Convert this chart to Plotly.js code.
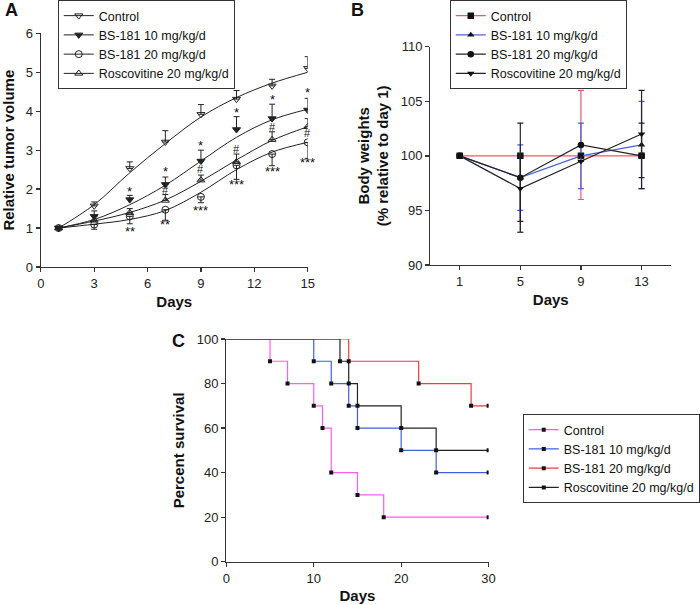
<!DOCTYPE html>
<html><head><meta charset="utf-8">
<script src="https://cdn.plot.ly/plotly-3.0.1.min.js"></script>
<style>html,body{margin:0;padding:0;background:#fff}#chart{width:700px;height:605px}</style>
</head><body><div id="chart"></div>
<script>
// ---------- Panel A: relative tumor volume ----------
const daysA = [1, 3, 5, 7, 9, 11, 13, 15];
const ctrlA = [1.0, 1.57, 2.53, 3.21, 3.92, 4.31, 4.65, 5.1];
const ctrlAErr = [0, 0.1, 0.17, 0.29, 0.25, 0.22, 0.17, 0.3];
const bs10A = [1.0, 1.3, 1.73, 2.12, 2.72, 3.53, 3.81, 4.03];
const bs10AErr = [0, 0.14, 0.11, 0.19, 0.28, 0.33, 0.37, 0.3];
const bs20A = [1.0, 1.09, 1.3, 1.47, 1.8, 2.61, 2.9, 3.2];
const bs20AErr = [0, 0.12, 0.19, 0.27, 0.15, 0.36, 0.3, 0.41];
const roscA = [1.0, 1.2, 1.39, 1.71, 2.23, 2.7, 3.27, 3.6];
const roscAErr = [0, 0.1, 0.11, 0.15, 0.13, 0.2, 0.2, 0.21];
const ctrlFit = [1.0, 1.6, 2.42, 3.17, 3.85, 4.35, 4.72, 5.0];
const bs10Fit = [1.0, 1.22, 1.6, 2.1, 2.72, 3.33, 3.78, 4.05];
const roscFit = [1.0, 1.18, 1.4, 1.72, 2.2, 2.75, 3.25, 3.6];
const bs20Fit = [1.0, 1.1, 1.22, 1.45, 1.92, 2.5, 2.95, 3.2];
const sigX = [5, 5, 7, 7, 7, 9, 9, 9, 11, 11, 11, 13, 13, 13, 15, 15, 15];
const sigY = [1.93, 0.9, 2.45, 1.97, 1.1, 3.13, 2.52, 1.45, 3.97, 3.02, 2.12, 4.3, 3.6, 2.45, 4.47, 3.43, 2.67];
const sigText = ['*', '**', '*', '#', '**', '*', '#', '***', '*', '#', '***', '*', '#', '***', '*', '#', '***'];
const seriesNames = ['Control', 'BS-181 10 mg/kg/d', 'BS-181 20 mg/kg/d', 'Roscovitine 20 mg/kg/d'];

// ---------- Panel B: body weights ----------
const daysB = [1, 5, 9, 13];
const ctrlB = [100, 100, 100, 100];
const ctrlBUp = [0, 0, 6, 0];
const ctrlBDown = [0, 7, 4, 0];
const bs10B = [100, 98, 100, 101];
const bs10BErr = [0, 3, 3, 4];
const bs20B = [100, 98, 101, 100];
const bs20BErr = [0, 5, 0, 3];
const roscB = [100, 97, 99.5, 102];
const roscBErr = [0, 3, 0, 4];

// ---------- Panel C: survival ----------
const ctrlCx = [0, 5, 7, 10, 11, 12, 15, 18, 30];
const ctrlCy = [100, 90, 80, 70, 60, 40, 30, 20, 20];
const bs10Cx = [0, 10, 12, 14, 15, 20, 24, 30];
const bs10Cy = [100, 90, 80, 70, 60, 50, 40, 40];
const bs20Cx = [0, 14, 22, 28, 30];
const bs20Cy = [100, 90, 80, 70, 70];
const roscCx = [0, 13, 14, 15, 20, 24, 30];
const roscCy = [100, 90, 80, 70, 60, 50, 50];

const FONT = 'Arial, "Liberation Sans", Helvetica, sans-serif';
const AX = '#333';
const traces = [];

// Panel A traces
const aSym = ['triangle-down-open', 'triangle-down', 'circle-open', 'triangle-up-open'];
const aVals = [ctrlA, bs10A, bs20A, roscA];
const aErrs = [ctrlAErr, bs10AErr, bs20AErr, roscAErr];
const aFits = [ctrlFit, bs10Fit, bs20Fit, roscFit];
const aDown = [false, false, true, false];
for (let i = 0; i < 4; i++) {
  traces.push({x: daysA, y: aFits[i], mode: 'lines', line: {color: '#222', width: 1, shape: 'spline', smoothing: 1},
    xaxis: 'x', yaxis: 'y', showlegend: false, hoverinfo: 'skip'});
}
for (let i = 0; i < 4; i++) {
  const z = aErrs[i].map(() => 0);
  traces.push({x: daysA, y: aVals[i], mode: 'markers',
    marker: {symbol: aSym[i], size: 7, color: '#222', line: {color: '#222', width: 1}},
    error_y: {type: 'data', symmetric: false, array: aDown[i] ? z : aErrs[i], arrayminus: aDown[i] ? aErrs[i] : z,
      color: '#222', thickness: 1, width: 3},
    xaxis: 'x', yaxis: 'y', showlegend: false});
}
// legend-only entries (no visible data)
for (let i = 0; i < 4; i++) {
  traces.push({x: [null], y: [null], mode: 'lines+markers', name: seriesNames[i], legend: 'legend',
    line: {color: '#222', width: 1}, marker: {symbol: aSym[i], size: 7, color: '#222', line: {color: '#222', width: 1}},
    xaxis: 'x', yaxis: 'y', hoverinfo: 'skip'});
}

// Panel B traces
const bCols = ['#e8596b', '#4a62dc', '#222', '#222'];
const bSym = ['square', 'triangle-up', 'circle', 'triangle-down'];
const bVals = [ctrlB, bs10B, bs20B, roscB];
const bUp = [ctrlBUp, bs10BErr, bs20BErr, roscBErr];
const bDn = [ctrlBDown, bs10BErr, bs20BErr, roscBErr];
for (let i = 0; i < 4; i++) {
  traces.push({x: daysB, y: bVals[i], mode: 'lines+markers', name: seriesNames[i], legend: 'legend2',
    line: {color: bCols[i], width: 1.2}, marker: {symbol: bSym[i], size: 6.5, color: '#111'},
    error_y: {type: 'data', symmetric: false, array: bUp[i], arrayminus: bDn[i], color: bCols[i], thickness: 1.2, width: 3},
    xaxis: 'x2', yaxis: 'y2'});
}

// Panel C traces
const cCols = ['#ff5cf4', '#3f5fe0', '#ee3b3b', '#222'];
const cX = [ctrlCx, bs10Cx, bs20Cx, roscCx];
const cY = [ctrlCy, bs10Cy, bs20Cy, roscCy];
for (let i = 0; i < 4; i++) {
  traces.push({x: cX[i], y: cY[i], mode: 'lines', line: {color: cCols[i], width: 1.2, shape: 'hv'},
    xaxis: 'x3', yaxis: 'y3', showlegend: false, hoverinfo: 'skip'});
}
for (let i = 0; i < 4; i++) {
  traces.push({x: cX[i].slice(1), y: cY[i].slice(1), mode: 'markers',
    marker: {symbol: 'square', size: 4, color: '#111'}, xaxis: 'x3', yaxis: 'y3', showlegend: false});
}
for (let i = 0; i < 4; i++) {
  traces.push({x: [null], y: [null], mode: 'lines+markers', name: seriesNames[i], legend: 'legend3',
    line: {color: cCols[i], width: 1.2}, marker: {symbol: 'square', size: 4, color: '#111'},
    xaxis: 'x3', yaxis: 'y3', hoverinfo: 'skip'});
}

const tickFont = {family: FONT, size: 13, color: '#222'};
const titleFont = {family: FONT, size: 15, color: '#111', weight: 'bold'};
function ax(extra) {
  return Object.assign({showline: true, linecolor: AX, linewidth: 1.3, ticks: 'outside', ticklen: 4,
    tickcolor: AX, tickwidth: 1.3, showgrid: false, zeroline: false, tickfont: tickFont, automargin: false,
    fixedrange: true}, extra);
}
const W = 700, H = 605;
const annotations = sigX.map((d, i) => ({x: d, y: sigY[i], xref: 'x', yref: 'y', text: sigText[i], showarrow: false,
  font: {family: FONT, size: sigText[i] === '#' ? 11 : 13, color: '#111'}}));
annotations.push({x: 3 / W, y: 1 - 10 / H, xref: 'paper', yref: 'paper', text: '<b>A</b>', showarrow: false, xanchor: 'left', yanchor: 'middle', font: {family: FONT, size: 18, color: '#111'}});
annotations.push({x: 350 / W, y: 1 - 10 / H, xref: 'paper', yref: 'paper', text: '<b>B</b>', showarrow: false, xanchor: 'left', yanchor: 'middle', font: {family: FONT, size: 18, color: '#111'}});
annotations.push({x: 171 / W, y: 1 - 341 / H, xref: 'paper', yref: 'paper', text: '<b>C</b>', showarrow: false, xanchor: 'left', yanchor: 'middle', font: {family: FONT, size: 18, color: '#111'}});
annotations.push({x: 30.5, y: 70, xref: 'x3', yref: 'y3', text: '#', showarrow: false, xanchor: 'left', font: {family: FONT, size: 9, color: '#333'}});

const legBase = {bordercolor: '#333', borderwidth: 1, bgcolor: '#fff', font: {family: FONT, size: 12.5, color: '#111'},
  xanchor: 'left', yanchor: 'top', itemwidth: 30, tracegroupgap: 0};

const layout = {
  width: W, height: H, margin: {l: 0, r: 0, t: 0, b: 0}, paper_bgcolor: '#fff', plot_bgcolor: '#fff',
  showlegend: true, font: {family: FONT},
  xaxis: ax({domain: [41 / W, 309 / W], range: [0, 15], tickvals: [0, 3, 6, 9, 12, 15], anchor: 'y',
    title: {text: 'Days', font: titleFont, standoff: 6}}),
  yaxis: ax({domain: [1 - 267 / H, 1 - 33.3 / H], range: [0, 6], tickvals: [0, 1, 2, 3, 4, 5, 6], anchor: 'x',
    title: {text: 'Relative tumor volume', font: titleFont, standoff: 8}}),
  xaxis2: ax({domain: [432.3 / W, 674 / W], range: [-0.93, 14.95], tickvals: [1, 5, 9, 13], anchor: 'y2',
    title: {text: 'Days', font: titleFont, standoff: 6}}),
  yaxis2: ax({domain: [1 - 265 / H, 1 - 46.7 / H], range: [90, 110], tickvals: [90, 95, 100, 105, 110], anchor: 'x2',
    title: {text: 'Body weights<br>(% relative to day 1)', font: titleFont, standoff: 8}}),
  xaxis3: ax({domain: [227.3 / W, 490.7 / W], range: [0, 30], tickvals: [0, 10, 20, 30], anchor: 'y3',
    title: {text: 'Days', font: titleFont, standoff: 6}}),
  yaxis3: ax({domain: [1 - 561.7 / H, 1 - 339 / H], range: [0, 100], tickvals: [0, 20, 40, 60, 80, 100], anchor: 'x3',
    title: {text: 'Percent survival', font: titleFont, standoff: 8}}),
  legend: Object.assign({}, legBase, {x: 58 / W, y: 1}),
  legend2: Object.assign({}, legBase, {x: 451.7 / W, y: 1}),
  legend3: Object.assign({}, legBase, {x: 525 / W, y: 1 - 414 / H}),
  annotations: annotations
};
Plotly.newPlot('chart', traces, layout, {displayModeBar: false, staticPlot: true});
</script></body></html>
